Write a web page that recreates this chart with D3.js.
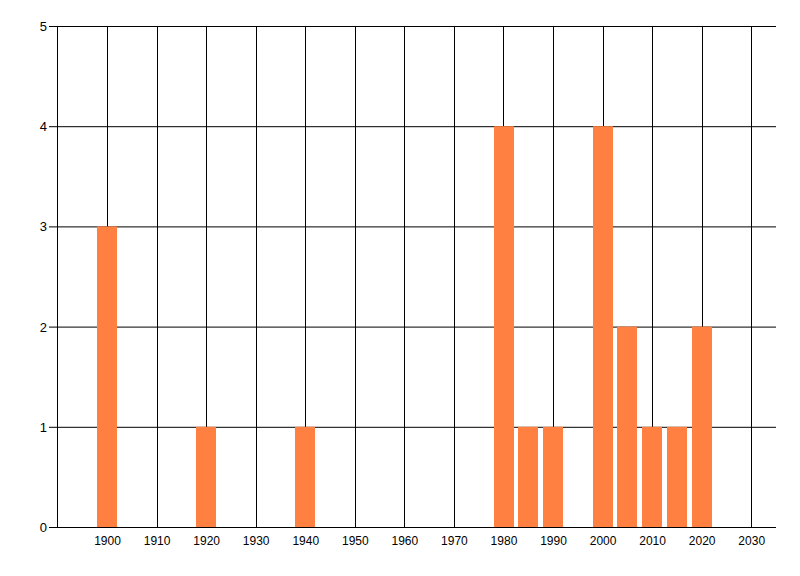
<!DOCTYPE html>
<html><head><meta charset="utf-8">
<script src="https://cdn.jsdelivr.net/npm/d3@7"></script>
<style>body{margin:0;background:#fff}svg{display:block}</style>
</head><body>
<svg id="c" width="800" height="576"></svg>
<script>
const years = [1900, 1920, 1940, 1980, 1985, 1990, 2000, 2005, 2010, 2015, 2020];
const counts = [3, 1, 1, 4, 1, 1, 4, 2, 1, 1, 2];
const xTicks = [1900, 1910, 1920, 1930, 1940, 1950, 1960, 1970, 1980, 1990, 2000, 2010, 2020, 2030];
const yTicks = [0, 1, 2, 3, 4, 5];

const svg = d3.select("#c");
const x = d3.scaleLinear().domain([1890, 2035]).range([57.5, 776]);
const y = d3.scaleLinear().domain([0, 5]).range([527.5, 26.5]);
const font = "'Liberation Sans Narrow', 'Liberation Sans', Arial, sans-serif";

// vertical gridlines
svg.append("g").selectAll("line").data(xTicks).join("line")
  .attr("x1", d => Math.round(x(d)) + 0.5).attr("x2", d => Math.round(x(d)) + 0.5)
  .attr("y1", y(5)).attr("y2", y(0))
  .attr("stroke", "#000").attr("stroke-width", 1);
// horizontal gridlines
svg.append("g").selectAll("line").data(yTicks).join("line")
  .attr("x1", 49).attr("x2", 776)
  .attr("y1", d => y(d)).attr("y2", d => y(d))
  .attr("stroke", "#000").attr("stroke-width", 1);

// bars
svg.append("g").selectAll("rect").data(years).join("rect")
  .attr("x", (d) => Math.round(x(d - 2)))
  .attr("width", (d) => Math.round(x(d + 2) - x(d - 2)))
  .attr("y", (d, i) => y(counts[i]) - 0.5)
  .attr("height", (d, i) => y(0) - y(counts[i]))
  .attr("fill", "#FF8040");

// y axis line
svg.append("line").attr("x1", 57.5).attr("x2", 57.5).attr("y1", y(5)).attr("y2", y(0) + 0.5)
  .attr("stroke", "#000");
// x axis line
svg.append("line").attr("x1", 49).attr("x2", 776).attr("y1", y(0)).attr("y2", y(0))
  .attr("stroke", "#000");

// y labels
svg.append("g").selectAll("text").data(yTicks).join("text")
  .attr("x", 47).attr("y", d => y(d) + 4.5)
  .attr("text-anchor", "end").attr("font-family", font).attr("font-size", 13)
  .attr("fill", "#000").text(d => d);
// x labels
svg.append("g").selectAll("text").data(xTicks).join("text")
  .attr("x", d => x(d) + 0.5).attr("y", 545)
  .attr("text-anchor", "middle").attr("font-family", font).attr("font-size", 12)
  .attr("fill", "#000").text(d => d);
</script>
</body></html>
